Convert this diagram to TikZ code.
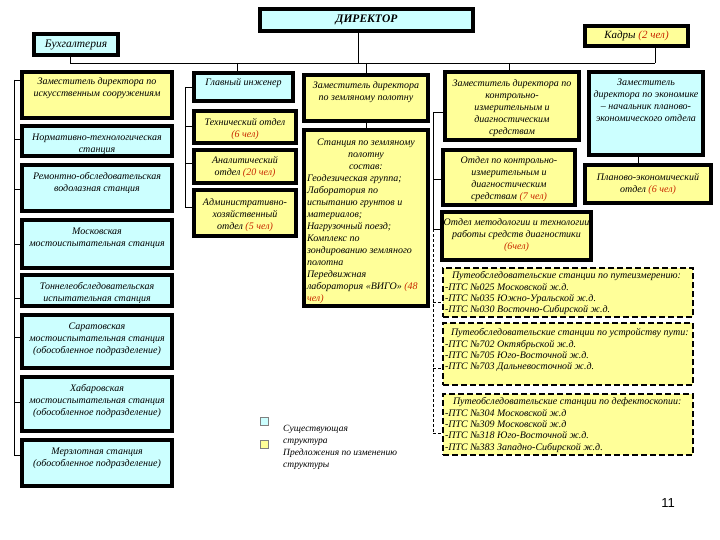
\documentclass[tikz,border=0pt]{standalone}
\usepackage{fontspec}
\setmainfont{Liberation Serif}
\newfontfamily\numfont{Liberation Sans}
\definecolor{cyanfill}{RGB}{204,255,255}
\definecolor{yellowfill}{RGB}{255,255,153}
\definecolor{redtext}{RGB}{200,40,0}
\newcommand{\redpart}[1]{\textcolor{redtext}{#1}}
\newcommand{\cellbody}[4]{\parbox[c][#2pt][t]{#1pt}{\centering\vspace*{\dimexpr#3pt+1.5pt\relax}#4}}

\begin{document}
\begin{tikzpicture}
[x=1pt,y=-1pt,
  cellbox/.style={draw=black,line width=4pt,inner sep=0pt,outer sep=0pt,anchor=north west,
    font=\fontsize{10}{12}\selectfont\itshape},%
  dashbox/.style={cellbox,line width=2.5pt,dash pattern=on 6pt off 3pt,
    font=\fontsize{10}{11.4}\selectfont\itshape},%
  headbox/.style={draw=black,line width=4pt,inner sep=0pt,outer sep=0pt,anchor=north west,
    font=\fontsize{11.5}{13}\selectfont\itshape},%
  linkline/.style={line width=0.9pt},%
  dashlink/.style={line width=0.9pt,dash pattern=on 3pt off 2pt},%
  legsq/.style={draw=gray,line width=0.8pt,minimum size=8pt,inner sep=0pt}]
\useasboundingbox (0,0) rectangle (720,540);
\fill[white] (0,0) rectangle (720,540);
%% top boxes
\node[headbox,fill=cyanfill,minimum width=213pt,minimum height=22pt,
  font=\fontsize{11.5}{13}\selectfont\bfseries\itshape] (director) at (260,9) {ДИРЕКТОР};
\node[headbox,fill=cyanfill,minimum width=84pt,minimum height=21pt] (buh) at (34,34) {Бухгалтерия};
\node[headbox,fill=yellowfill,minimum width=103pt,minimum height=20pt,
  font=\fontsize{11}{13}\selectfont\itshape] (kadry) at (585,26) {Кадры \redpart{(2 чел)}};
%% units
\foreach \boxname/\x/\y/\w/\h/\pad/\boxstyle/\boxfill/\boxtext in {
  c1a/22/72/150/46/4/cellbox/yellowfill/{Заместитель директора по\\искусственным сооружениям},
  c1b/22/126/150/30/6/cellbox/cyanfill/{Нормативно-технологическая\\станция},
  c1c/22/165/150/46/6/cellbox/cyanfill/{Ремонтно-обследовательская\\водолазная станция},
  c1d/22/220/150/48/6/cellbox/cyanfill/{Московская\\мостоиспытательная станция},
  c1e/22/275/150/31/6/cellbox/cyanfill/{Тоннелеобследовательская\\испытательная станция},
  c1f/22/315/150/53/6/cellbox/cyanfill/{Саратовская\\мостоиспытательная станция\\(обособленное подразделение)},
  c1g/22/377/150/54/6/cellbox/cyanfill/{Хабаровская\\мостоиспытательная станция\\(обособленное подразделение)},
  c1h/22/440/150/46/6/cellbox/cyanfill/{Мерзлотная станция\\(обособленное подразделение)},
  c2a/194/73/99/28/4/cellbox/cyanfill/{Главный инженер},
  c2b/194/111/102/32/6/cellbox/yellowfill/{Технический отдел\\\redpart{(6 чел)}},
  c2c/194/150/102/33/5/cellbox/yellowfill/{Аналитический\\отдел \redpart{(20 чел)}},
  c2d/194/190/102/46/7/cellbox/yellowfill/{Административно-\\хозяйственный\\отдел \redpart{(5 чел)}},
  c3a/304/75/124/46/5/cellbox/yellowfill/{Заместитель директора\\по земляному полотну},
  c3b/304/130/124/176/7/cellbox/yellowfill/{Станция по земляному\\полотну\\состав:\endgraf
    \raggedright\leftskip=3pt Геодезическая группа;\\Лаборатория по\\испытанию грунтов и\\материалов;\\
    Нагрузочный поезд;\\Комплекс по\\зондированию земляного\\полотна\\Передвижная\\
    лаборатория «ВИГО» \redpart{(48}\\\redpart{чел)}},
  c4a/445/72/134/68/6/cellbox/yellowfill/{Заместитель директора по\\контрольно-\\измерительным и\\диагностическим\\средствам},
  c4b/443/150/132/55/5/cellbox/yellowfill/{Отдел по контрольно-\\измерительным и\\диагностическим\\средствам \redpart{(7 чел)}},
  c4c/442/212/149/48/5/cellbox/yellowfill/{Отдел методологии и технологии\\работы средств диагностики\\\redpart{(6чел)}},
  c5a/589/72/114/83/5/cellbox/cyanfill/{Заместитель\\директора по экономике\\– начальник планово-\\экономического отдела},
  c5b/585/165/126/38/7/cellbox/yellowfill/{Планово-экономический\\отдел \redpart{(6 чел)}},
  d1/443/268/250/49/2/dashbox/yellowfill/{\raggedright\leftskip=2pt\hspace*{7pt}Путеобследовательские станции по путеизмерению:\\
    -ПТС №025 Московской ж.д.\\-ПТС №035 Южно-Уральской ж.д.\\-ПТС №030 Восточно-Сибирской ж.д.},
  d2/443/323/250/62/4/dashbox/yellowfill/{\raggedright\leftskip=2pt\hspace*{6pt}Путеобследовательские станции по устройству пути:\\
    -ПТС №702 Октябрьской ж.д.\\-ПТС №705 Юго-Восточной ж.д.\\-ПТС №703 Дальневосточной ж.д.},
  d3/443/394/250/61/2/dashbox/yellowfill/{\raggedright\leftskip=2pt\hspace*{8pt}Путеобследовательские станции по дефектоскопии:\\
    -ПТС №304 Московской ж.д\\-ПТС №309 Московской ж.д\\-ПТС №318 Юго-Восточной ж.д.\\-ПТС №383 Западно-Сибирской ж.д.}}
{
  \node[\boxstyle,fill=\boxfill] (\boxname) at (\x,\y) {\cellbody{\w}{\h}{\pad}{\boxtext}};
}
%% main line and drops
\coordinate (jb) at (70,63);
\coordinate (jd) at (358,63);
\coordinate (jk) at (655,63);
\coordinate (j2) at (237,63);
\coordinate (j3) at (366,63);
\coordinate (j4) at (509,63);
\coordinate (j5) at (638,160);
\draw[linkline] (jb) -- (jk);
\draw[linkline] (buh.south -| jb) -- (jb);
\draw[linkline] (director.south -| jd) -- (jd);
\draw[linkline] (kadry.south -| jk) -- (jk);
\draw[linkline] (j2) -- (j2 |- c2a.north);
\draw[linkline] (j3) -- (c3a.north);
\draw[linkline] (j4) -- (j4 |- c4a.north);
\draw[linkline] (c3a.south) -- (c3b.north);
\draw[linkline] (j5 |- c5a.south) -- (j5 |- c5b.north);
%% side brackets
\foreach \boxname/\x/\y in {c1a/14/80, c1b/14/139, c1c/14/189, c1d/14/244, c1e/14/298,
  c1f/14/337, c1g/14/402, c1h/14/455, c2a/185/87, c2b/185/126, c2c/185/163, c2d/185/207,
  c4a/433/112, c4b/433/179, c4c/433/229}
{
  \coordinate (t\boxname) at (\x,\y);
  \draw[linkline] (t\boxname) -- (t\boxname -| \boxname.west);
};
\foreach \boxname/\y in {d1/302, d2/368, d3/433}
{
  \coordinate (t\boxname) at (433,\y);
  \draw[dashlink] (t\boxname) -- (t\boxname -| \boxname.west);
};
\draw[linkline] (tc1a) -- (tc1h);
\draw[linkline] (tc2a) -- (tc2d);
\draw[linkline] (tc4a) -- (tc4c);
\draw[dashlink] (tc4c) -- (td3);
%% legend
\node[legsq,fill=cyanfill] (legold) at (264,421) {};
\node[legsq,fill=yellowfill] (legnew) at (264,444) {};
\node[anchor=north west,align=left,inner sep=3pt,
  font=\fontsize{9.5}{12}\selectfont\itshape] (legtext) at (280,422)
  {Существующая\\структура\\Предложения по изменению\\структуры};
\node[font=\numfont\fontsize{13}{15}\selectfont] (pagenum) at (668,503) {11};
\end{tikzpicture}
\end{document}
